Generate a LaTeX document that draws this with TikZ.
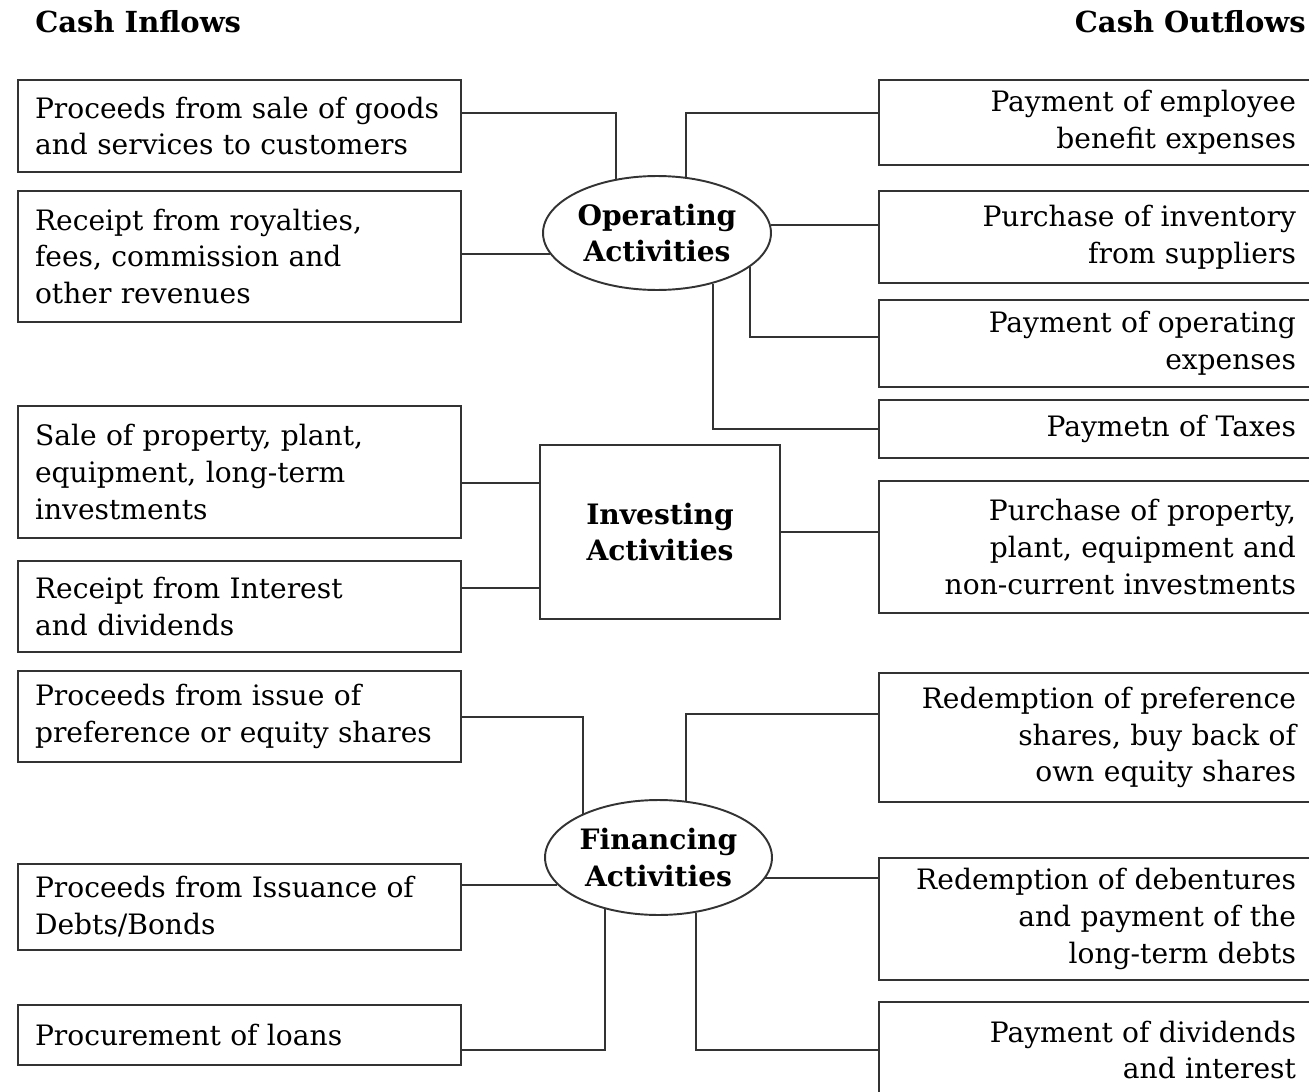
\documentclass[tikz,border=0pt]{standalone}
\usepackage{fontspec}
\setmainfont{DejaVu Serif}
\usepackage{tikz}
\usetikzlibrary{shapes.geometric}

\tikzset{
  boxline/.style={draw=black!80,line width=1.1pt},
  inbox/.style={boxline,rectangle,text width=8.18cm,inner xsep=0.34cm,inner ysep=0pt,align=left,font=\fontsize{16}{21}\selectfont},
  outbox/.style={boxline,rectangle,text width=7.94cm,inner xsep=0.4cm,inner ysep=0pt,align=right,font=\fontsize{16}{21}\selectfont},
  hub/.style={boxline,align=center,inner sep=0pt,font=\bfseries\fontsize{16}{21}\selectfont},
  head/.style={inner sep=0pt,font=\bfseries\fontsize{16.5}{19}\selectfont},
  link/.style={draw=black!80,line width=1.1pt}
}

\begin{document}
\begin{tikzpicture}[x=0.02cm,y=-0.02cm]
\useasboundingbox (0,0) rectangle (1309,1092);
\clip (0,0) rectangle (1309,1092);

\node[head,anchor=west] (inflow) at (35,22) {Cash Inflows};
\node[head,anchor=east] (outflow) at (1306,22) {Cash Outflows};

% activity hubs
\node[hub,ellipse,minimum width=4.56cm,minimum height=2.28cm] (op) at (657,233) {Operating\\Activities};
\node[hub,rectangle,minimum width=4.8cm,minimum height=3.48cm] (inv) at (660,532) {Investing\\Activities};
\node[hub,ellipse,minimum width=4.54cm,minimum height=2.3cm] (fin) at (658.5,857.5) {Financing\\Activities};

% inflows
\foreach \n/\y/\h/\t in {L1/126/1.84/{Proceeds from sale of goods\\and services to customers},
    L2/256.5/2.62/{Receipt from royalties,\\fees, commission and\\other revenues},
    L3/472/2.64/{Sale of property, plant,\\equipment, long-term\\investments},
    L4/606.5/1.82/{Receipt from Interest\\and dividends},
    L5/716.5/1.82/{Proceeds from issue of\\preference or equity shares},
    L6/907/1.72/{Proceeds from Issuance of\\Debts/Bonds},
    L7/1035/1.2/{Procurement of loans}} {
  \node[inbox,minimum height=\h cm] (\n) at (239.5,\y) {\t};
}

% outflows
\foreach \n/\y/\h/\t in {R1/122.5/1.7/{Payment of employee\\benefit expenses},
    R2/237/1.84/{Purchase of inventory\\from suppliers},
    R3/343.5/1.74/{Payment of operating\\expenses},
    R4/429/1.16/{Paymetn of Taxes},
    R5/547/2.64/{Purchase of property,\\plant, equipment and\\non-current investments},
    R6/737.5/2.58/{Redemption of preference\\shares, buy back of\\own equity shares},
    R7/919/2.44/{Redemption of debentures\\and payment of the\\long-term debts},
    R8/1050/1.92/{Payment of dividends\\and interest}} {
  \node[outbox,minimum height=\h cm] (\n) at (1097.5,\y) {\t};
}

% connectors
\draw[link] (L1.east |- 0,113) -| (op.127);
\draw[link] (op.191) -- (op.191 -| L2.east);
\draw[link] (L3.east |- 0,483) -- (inv.west |- 0,483);
\draw[link] (L4.east |- 0,588) -- (inv.west |- 0,588);
\draw[link] (L5.east |- 0,717) -| (fin.150);
\draw[link] (fin.195) -- (fin.195 -| L6.east);
\draw[link] (fin.224) |- (L7.east |- 0,1050);
\draw[link] (op.63) |- (R1.west |- 0,113);
\draw[link] (op.4) -- (op.4 -| R2.west);
\draw[link] (op.340) |- (R3.west |- 0,337);
\draw[link] (op.318) |- (R4.west);
\draw[link] (inv.east) -- (inv.east -| R5.west);
\draw[link] (fin.64) |- (R6.west |- 0,714);
\draw[link] (fin.349) -- (fin.349 -| R7.west);
\draw[link] (fin.304) |- (R8.west |- 0,1050);
\end{tikzpicture}
\end{document}
